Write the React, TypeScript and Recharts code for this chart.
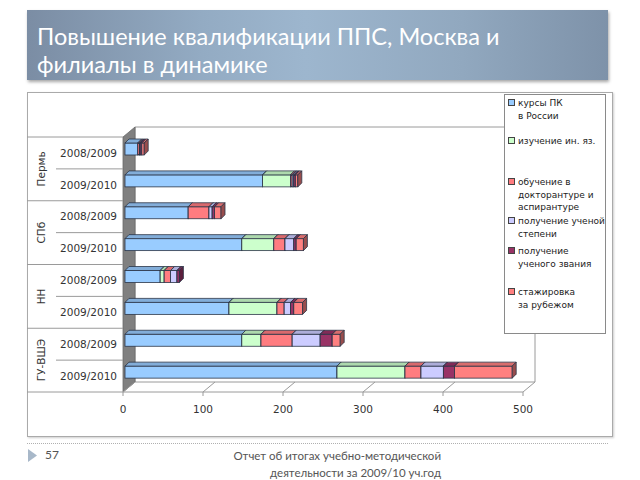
import React from 'react';
import { BarChart, ComposedChart, Bar, XAxis, YAxis, CartesianGrid } from 'recharts';

// ---------- data ----------
const groups = ['Пермь', 'Пермь', 'СПб', 'СПб', 'НН', 'НН', 'ГУ-ВШЭ', 'ГУ-ВШЭ'];
const years = ['2008/2009', '2009/2010', '2008/2009', '2009/2010', '2008/2009', '2009/2010', '2008/2009', '2009/2010'];

const kursyPK = [16, 172, 79, 146, 44, 130, 146, 265];
const izuchenieYaz = [0, 35, 0, 40, 5, 60, 24, 85];
const obuchenie = [2, 2, 26, 14, 8, 9, 39, 20];
const stepen = [1, 2, 4, 11, 8, 8, 35, 28];
const zvanie = [2, 2, 3, 3, 3, 4, 15, 14];
const stazhirovka = [3, 3, 8, 9, 0, 11, 10, 72];

const seriesValues = [kursyPK, izuchenieYaz, obuchenie, stepen, zvanie, stazhirovka];
const seriesNames = [
  'курсы ПК\nв России',
  'изучение ин. яз.',
  'обучение в\nдокторантуре и\nаспирантуре',
  'получение ученой\nстепени',
  'получение\nученого звания',
  'стажировка\nза рубежом',
];
const seriesColors = ['#99CCFF', '#CCFFCC', '#FF7C80', '#CCCCFF', '#993366', '#FF8080'];
const xTicks = [0, 100, 200, 300, 400, 500];

const data = groups.map((g, i) => {
  const row: Record<string, any> = { key: g + ' ' + years[i], group: g, year: years[i] };
  seriesValues.forEach((arr, s) => (row['s' + s] = arr[i]));
  return row;
});

// ---------- geometry ----------
const W = 640;
const H = 480;
const PLOT_LEFT = 123;
const PLOT_RIGHT = 523;
const PLOT_TOP = 137;
const PLOT_BOTTOM = 392;
const DX = 12; // depth offset of back wall
const DY = 10;
const ROW_H = (PLOT_BOTTOM - PLOT_TOP) / data.length;
const BOX_LEFT = 27;
const YEAR_LINE_LEFT = 56;
const X_AXIS_H = 30;
const BAR_D = 4;

const FONT = '"DejaVu Sans", Verdana, sans-serif';

function shade(hex: string, f: number) {
  const n = parseInt(hex.slice(1), 16);
  const r = Math.round(((n >> 16) & 255) * f);
  const g = Math.round(((n >> 8) & 255) * f);
  const b = Math.round((n & 255) * f);
  return `rgb(${r},${g},${b})`;
}

const Bar3D = (props: any) => {
  const { x, y, width, height, fill } = props;
  if (!width || width <= 0 || !height) return <g />;
  const x0 = x + 2;
  const y0 = y - 4;
  const d = BAR_D;
  const stroke = '#2b3548';
  return (
    <g>
      <rect x={x0} y={y0} width={width} height={height} fill={fill} stroke={stroke} strokeWidth={0.8} />
      <polygon
        points={`${x0},${y0} ${x0 + d},${y0 - d} ${x0 + width + d},${y0 - d} ${x0 + width},${y0}`}
        fill={shade(fill, 0.85)}
        stroke={stroke}
        strokeWidth={0.8}
      />
      <polygon
        points={`${x0 + width},${y0} ${x0 + width + d},${y0 - d} ${x0 + width + d},${y0 - d + height} ${x0 + width},${y0 + height}`}
        fill={shade(fill, 0.6)}
        stroke={stroke}
        strokeWidth={0.8}
      />
    </g>
  );
};

const YTick = (props: any) => {
  const { x, y, payload } = props;
  const i = data.findIndex((d) => d.key === payload.value);
  if (i < 0) return <g />;
  const row = data[i];
  const half = ROW_H / 2;
  const lineStyle = { stroke: '#9a9a9a', strokeWidth: 1 };
  return (
    <g>
      <text x={x - 6} y={y} dy="0.36em" textAnchor="end" fontFamily={FONT} fontSize={10.5} fill="#333">
        {row.year}
      </text>
      {i % 2 === 0 && (
        <g>
          <line x1={BOX_LEFT} x2={x} y1={y - half} y2={y - half} {...lineStyle} />
          <line x1={YEAR_LINE_LEFT} x2={x} y1={y + half} y2={y + half} {...lineStyle} />
          <text
            x={41}
            y={y + half}
            dy="0.36em"
            textAnchor="middle"
            transform={`rotate(-90 41 ${y + half})`}
            fontFamily={FONT}
            fontSize={10.5}
            fill="#333"
          >
            {row.group}
          </text>
        </g>
      )}
      {i === data.length - 1 && <line x1={BOX_LEFT} x2={x} y1={y + half} y2={y + half} {...lineStyle} />}
    </g>
  );
};

const XTick = (props: any) => {
  const { x, y, payload } = props;
  return (
    <g>
      <line x1={x} y1={y} x2={x + DX} y2={y - DY} stroke="#9a9a9a" />
      <line x1={x} y1={y} x2={x} y2={y + 4} stroke="#9a9a9a" />
      <text x={x} y={y + 21} textAnchor="middle" fontFamily={FONT} fontSize={10.5} fill="#333">
        {payload.value}
      </text>
    </g>
  );
};

const legendTops = [103, 141, 182, 221, 251, 292];

export default function App() {
  return (
    <div
      style={{
        position: 'absolute',
        left: 0,
        top: 0,
        width: W,
        height: H,
        background: '#fff',
        overflow: 'hidden',
      }}
    >
      {/* title */}
      <div
        style={{
          position: 'absolute',
          left: 27,
          top: 10,
          width: 581,
          height: 70,
          background:
            'linear-gradient(to right, #7b8da4 0%, #93abc3 30%, #9db6ce 48%, #91a8bf 75%, #7e92a9 100%)',
          boxShadow: '1px 2px 3px rgba(0,0,0,0.35)',
        }}
      >
        <div
          style={{
            position: 'absolute',
            left: 10,
            top: 12,
            color: '#fff',
            fontFamily: 'Lato, "Open Sans", sans-serif',
            fontSize: 23.5,
            lineHeight: '28px',
            whiteSpace: 'pre',
          }}
        >
          {'Повышение квалификации ППС, Москва и\nфилиалы в динамике'}
        </div>
      </div>

      {/* chart frame */}
      <div
        style={{
          position: 'absolute',
          left: BOX_LEFT,
          top: 92,
          width: 586,
          height: 345,
          border: '1px solid #aaa',
          boxSizing: 'border-box',
          boxShadow: '1px 1px 2px rgba(0,0,0,0.2)',
        }}
      />

      {/* back wall grid */}
      <div style={{ position: 'absolute', left: 0, top: 0 }}>
        <ComposedChart
          width={W}
          height={H}
          data={data}
          margin={{ top: PLOT_TOP - DY, right: W - PLOT_RIGHT - DX, bottom: H - PLOT_BOTTOM + DY, left: PLOT_LEFT + DX }}
        >
          <XAxis type="number" domain={[0, 500]} ticks={xTicks} hide />
          <YAxis type="number" domain={[0, 1]} ticks={[0, 1]} hide />
          <CartesianGrid stroke="#9a9a9a" />
        </ComposedChart>
      </div>

      {/* side wall */}
      <svg width={W} height={H} style={{ position: 'absolute', left: 0, top: 0 }}>
        <polygon
          points={`${PLOT_LEFT},${PLOT_TOP} ${PLOT_LEFT + DX},${PLOT_TOP - DY} ${PLOT_LEFT + DX},${PLOT_BOTTOM - DY} ${PLOT_LEFT},${PLOT_BOTTOM}`}
          fill="#808080"
          stroke="#6a6a6a"
          strokeWidth={0.8}
        />
      </svg>

      {/* front: bars and axes */}
      <div style={{ position: 'absolute', left: 0, top: 0 }}>
        <BarChart
          width={W}
          height={H}
          data={data}
          layout="vertical"
          barSize={12}
          margin={{ top: PLOT_TOP, right: W - PLOT_RIGHT, bottom: H - PLOT_BOTTOM - X_AXIS_H, left: 0 }}
        >
          <XAxis
            type="number"
            domain={[0, 500]}
            ticks={xTicks}
            interval={0}
            height={X_AXIS_H}
            axisLine={{ stroke: '#9a9a9a' }}
            tickLine={false}
            tickSize={0}
            tickMargin={0}
            tick={(p: any) => <XTick {...p} />}
          />
          <YAxis
            type="category"
            dataKey="key"
            width={PLOT_LEFT}
            interval={0}
            axisLine={false}
            tickLine={false}
            tickSize={0}
            tickMargin={0}
            tick={(p: any) => <YTick {...p} />}
          />
          {seriesValues.map((_, s) => (
            <Bar
              key={s}
              dataKey={'s' + s}
              name={seriesNames[s]}
              stackId="a"
              fill={seriesColors[s]}
              isAnimationActive={false}
              shape={(p: any) => <Bar3D {...p} fill={seriesColors[s]} />}
            />
          ))}
        </BarChart>
      </div>

      {/* legend */}
      <div
        style={{
          position: 'absolute',
          left: 504,
          top: 94,
          width: 102,
          height: 240,
          border: '1px solid #8a8a8a',
          boxSizing: 'border-box',
          background: '#fff',
        }}
      />
      {seriesNames.map((name, s) => (
        <div key={s} style={{ position: 'absolute', left: 508, top: legendTops[s] - 6 }}>
          <div
            style={{
              position: 'absolute',
              left: 0,
              top: 2,
              width: 7,
              height: 7,
              background: seriesColors[s],
              border: '1px solid #444',
              boxSizing: 'border-box',
            }}
          />
          <div
            style={{
              position: 'absolute',
              left: 10,
              top: 0,
              fontFamily: FONT,
              fontSize: 9,
              lineHeight: '12.5px',
              color: '#222',
              whiteSpace: 'pre',
            }}
          >
            {name}
          </div>
        </div>
      ))}

      {/* footer */}
      <div
        style={{
          position: 'absolute',
          left: 27,
          top: 443,
          width: 581,
          height: 0,
          borderTop: '1px dotted #b0b0b0',
        }}
      />
      <svg width={12} height={16} style={{ position: 'absolute', left: 27, top: 448 }}>
        <polygon points="1,1 10,7.5 1,14" fill="#a8b8c9" />
      </svg>
      <div
        style={{
          position: 'absolute',
          left: 45,
          top: 447,
          fontFamily: 'Lato, "Open Sans", sans-serif',
          fontSize: 12,
          color: '#555',
        }}
      >
        57
      </div>
      <div
        style={{
          position: 'absolute',
          left: 200,
          top: 447,
          width: 241,
          textAlign: 'right',
          fontFamily: 'Lato, "Open Sans", sans-serif',
          fontSize: 11.5,
          lineHeight: '17px',
          color: '#555',
          whiteSpace: 'pre',
        }}
      >
        {'Отчет об итогах учебно-методической\nдеятельности за 2009/10 уч.год'}
      </div>
    </div>
  );
}
